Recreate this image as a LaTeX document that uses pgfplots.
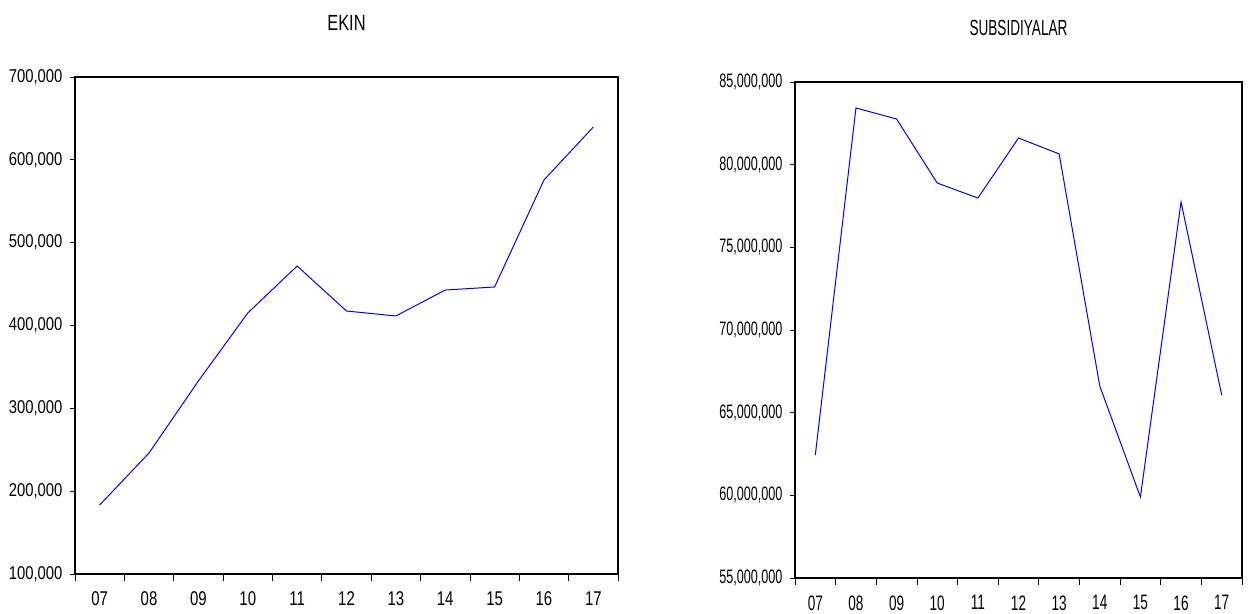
\documentclass[border=0pt]{standalone}
\usepackage{pgfplots}
\pgfplotsset{compat=1.18}
\usepackage{fontspec}
\setmainfont{Liberation Sans}[FakeStretch=0.85]
\newfontfamily\fa{Liberation Sans}[FakeStretch=0.80]
\newfontfamily\fb{Liberation Sans}[FakeStretch=0.75]
\newfontfamily\fc{Liberation Sans}[FakeStretch=0.65]
\newfontfamily\fd{Liberation Sans}[FakeStretch=0.62]
\begin{document}
\begin{tikzpicture}
\path[use as bounding box] (0bp,0bp) rectangle (1249bp,614bp);
\pgfplotsset{
  myaxis/.style={
    scale only axis,
    axis line style={black, line width=1.1bp},
    xmin=-0.5, xmax=10.5,
    xtick={0,...,10},
    xticklabels={07,08,09,10,11,12,13,14,15,16,17},
    major x tick style={draw=none},
    minor xtick={-0.5,0.5,...,10.5},
    minor x tick style={black, line width=0.8bp},
    minor tick length=7bp,
    major tick length=5bp,
    tick align=outside,
    xtick pos=bottom, ytick pos=left,
    ytick style={black, line width=0.8bp},
    scaled y ticks=false,
    xticklabel style={yshift=-9bp},
    yticklabel style={xshift=-4bp},
    title style={at={(0.5,1)}, anchor=center, yshift=48bp},
  }
}
\begin{axis}[myaxis, at={(75bp,40bp)}, anchor=south west, width=543bp, height=497bp,
  ymin=100000, ymax=700000, ytick={100000,200000,300000,400000,500000,600000,700000},
  yticklabels={{100,000},{200,000},{300,000},{400,000},{500,000},{600,000},{700,000}},
  yticklabel style={font=\fa\fontsize{18.6}{20}\selectfont},
  xticklabel style={font=\fb\fontsize{20}{22}\selectfont},
  title style={font=\fb\fontsize{22}{24}\selectfont},
  title={EKIN}]
\addplot[blue, line width=1bp] coordinates {
(0,183300) (1,246100) (2,333000) (3,415100) (4,471800) (5,417500)
(6,411500) (7,442800) (8,446500) (9,575600) (10,639600)};
\end{axis}
\begin{axis}[myaxis, at={(795bp,36bp)}, anchor=south west, width=447bp, height=496bp,
  ymin=55000000, ymax=85000000, ytick={55000000,60000000,65000000,70000000,75000000,80000000,85000000},
  yticklabels={{55,000,000},{60,000,000},{65,000,000},{70,000,000},{75,000,000},{80,000,000},{85,000,000}},
  yticklabel style={font=\fc\fontsize{19.5}{21}\selectfont},
  xticklabel style={font=\fc\fontsize{21}{23}\selectfont},
  title style={font=\fd\fontsize{22}{24}\selectfont},
  title={SUBSIDIYALAR}]
\addplot[blue, line width=1bp] coordinates {
(0,62440000) (1,83430000) (2,82760000) (3,78890000) (4,77980000) (5,81610000)
(6,80650000) (7,66610000) (8,59900000) (9,77740000) (10,66070000)};
\end{axis}
\end{tikzpicture}
\end{document}
